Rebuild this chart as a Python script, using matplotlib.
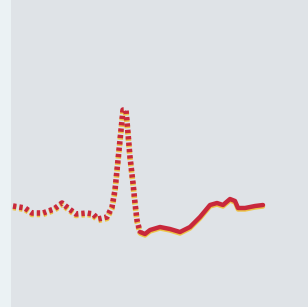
import numpy as np
import matplotlib.pyplot as plt

# trace values (height above bottom edge)
x_dot = [13, 25, 32, 43, 54, 62, 68, 76, 87, 93, 98, 107, 112, 115, 117, 119,
         121, 123, 126, 128, 130, 133, 135, 137, 140]
y_dot = [101, 99, 94, 94, 98, 104, 99, 93, 94, 93, 88, 90, 100, 117, 137, 157,
         177, 197, 197, 174, 150, 124, 104, 87, 75]

x_line = [140, 145, 150, 160, 170, 180, 190, 200, 210, 217, 223, 230, 235,
          238, 245, 255, 263]
y_line = [75, 73, 77, 80, 78, 75, 80, 90, 102, 104, 102, 108, 106, 99, 99,
          101, 102]

fig = plt.figure(figsize=(3.08, 3.07), dpi=100)
fig.set_facecolor('#ebf2f4')
ax = fig.add_axes([11 / 308, 0, 297 / 308, 1])
ax.set_facecolor('#dfe3e7')
ax.set_xlim(11, 308)
ax.set_ylim(0, 307)
ax.set_xticks([])
ax.set_yticks([])
for s in ax.spines.values():
    s.set_visible(False)

off = 1.5  # yellow print shadow, slightly below the red
yd = np.array(y_dot)
yl = np.array(y_line)

ax.plot(x_dot, yd - off, color='#ecc448', lw=4.0, dashes=(0.6, 0.55),
        dash_capstyle='butt')
ax.plot(x_dot, yd, color='#c8283c', lw=4.0, dashes=(0.6, 0.55),
        dash_capstyle='butt')

ax.plot(x_line, yl - off, color='#ecc448', lw=3.2, solid_capstyle='round')
ax.plot(x_line, yl, color='#c8283c', lw=3.2, solid_capstyle='round')

fig.savefig('out.png', dpi=100)
